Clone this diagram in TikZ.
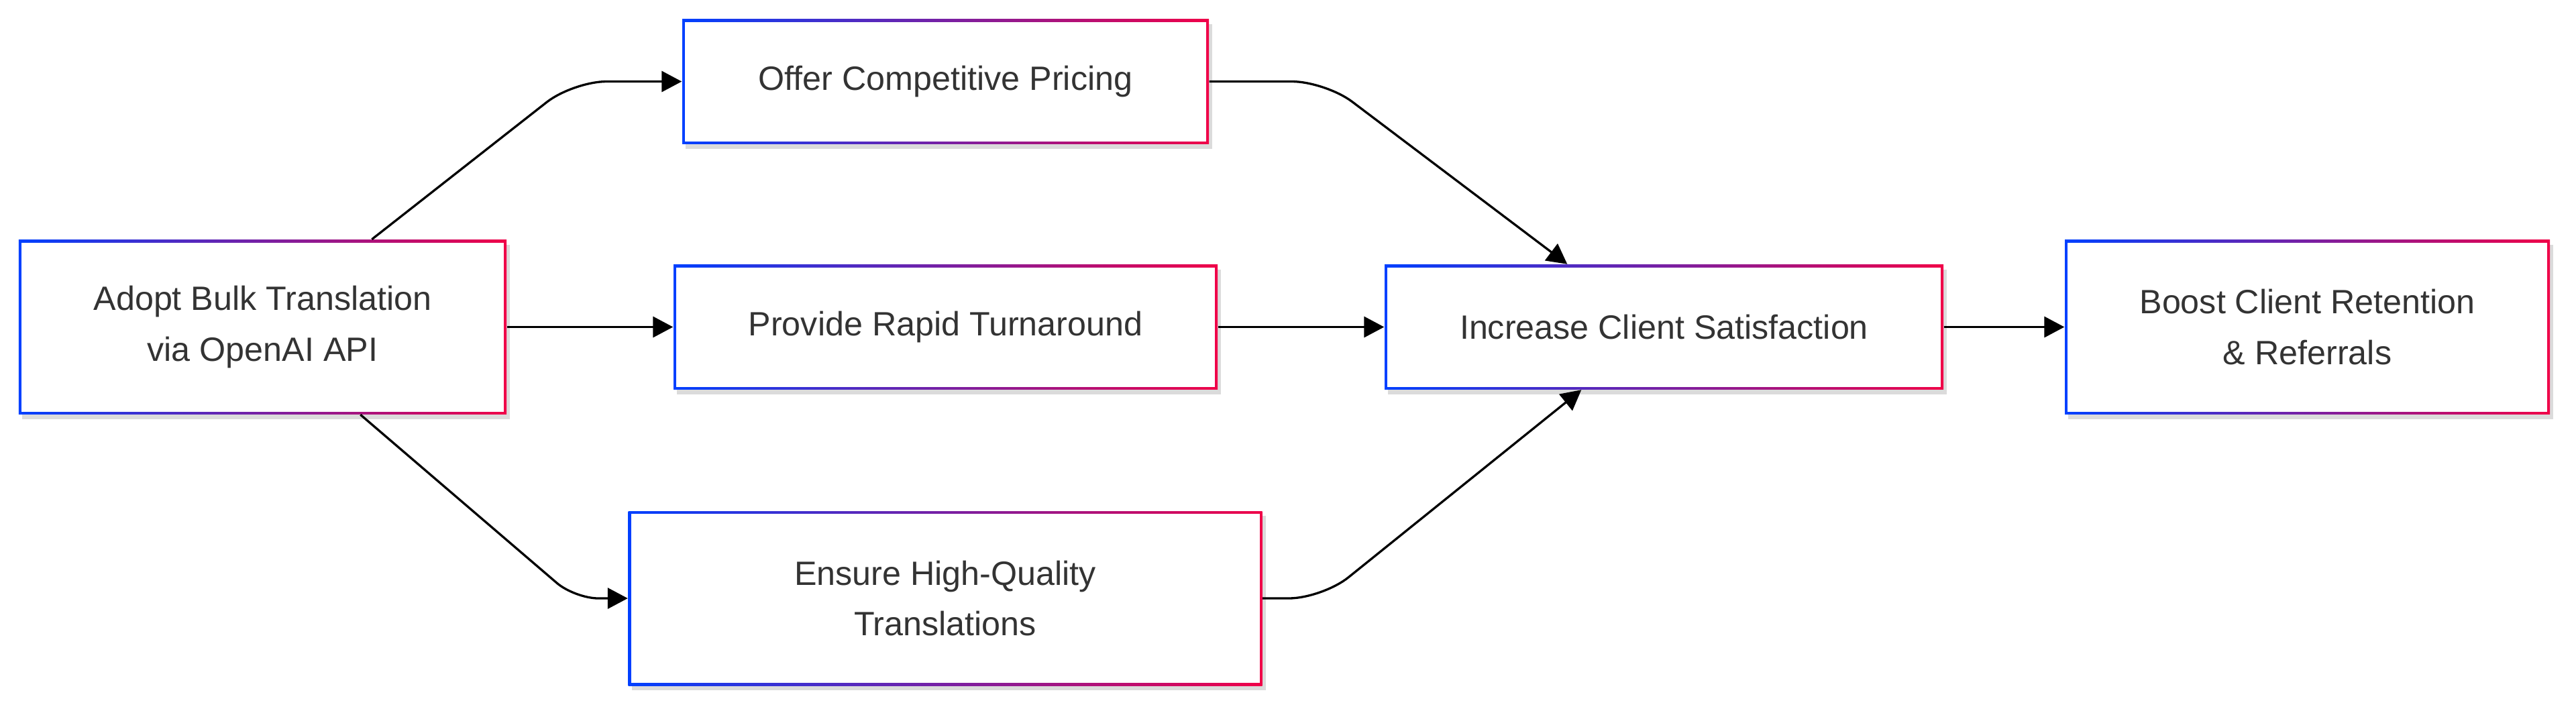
\documentclass[tikz,border=0pt]{standalone}
\usepackage{fontspec}
\setmainfont{Liberation Sans}
\usepackage{tikz}
\usetikzlibrary{arrows.meta,positioning,shadows}

\definecolor{gbBlue}{RGB}{0,64,255}
\definecolor{gbRed}{RGB}{240,0,72}
\definecolor{txtGrey}{RGB}{51,51,51}

\tikzset{
    procbox/.style={rectangle, inner sep=0pt, align=center, text=txtGrey,
        font=\fontsize{14.3pt}{21.4pt}\selectfont,
        left color=gbBlue, right color=gbRed,
        drop shadow={shadow xshift=0.5mm, shadow yshift=-0.7mm, opacity=0.14, fill=black},
        path picture={\fill[white]
            ([shift={(0.4mm,0.4mm)}]path picture bounding box.south west) rectangle
            ([shift={(-0.4mm,-0.4mm)}]path picture bounding box.north east);}},
    link/.style={->, line width=0.33mm, rounded corners=0.5cm}
}

\begin{document}
\begin{tikzpicture}[>={Triangle[length=3mm,width=3.1mm]}]
    \useasboundingbox (0,0) rectangle (38.4,-10.56);

    % Nodes {adopt, pricing, rapid, quality, satisfy, retain}
    \node [procbox, minimum width=7.27cm, minimum height=2.6cm] (adopt)   at (3.915,-4.875)  {Adopt Bulk Translation\\via OpenAI API};
    \node [procbox, minimum width=7.85cm, minimum height=1.86cm] (pricing) at (14.095,-1.215) {Offer Competitive Pricing};
    \node [procbox, minimum width=8.11cm, minimum height=1.86cm] (rapid)   at (14.095,-4.875) {Provide Rapid Turnaround};
    \node [procbox, minimum width=9.45cm, minimum height=2.6cm]  (quality) at (14.09,-8.92)   {Ensure High-Quality\\Translations};
    \node [procbox, minimum width=8.33cm, minimum height=1.86cm] (satisfy) at (24.805,-4.875) {Increase Client Satisfaction};
    \node [procbox, minimum width=7.23cm, minimum height=2.6cm]  (retain)  at (34.395,-4.875) {Boost Client Retention\\\& Referrals};

    % Paths
    \draw [link] ([xshift=5.27cm]adopt.north west) -- ([xshift=-1.62cm]pricing.west) -- (pricing.west);
    \draw [link] (adopt.east) -- (rapid.west);
    \draw [link, rounded corners=0.35cm] ([xshift=5.1cm]adopt.south west) -- ([xshift=-0.79cm]quality.west) -- (quality.west);
    \draw [link] (pricing.east) -- ([xshift=1.73cm]pricing.east) -- ([xshift=2.73cm]satisfy.north west);
    \draw [link] (rapid.east) -- (satisfy.west);
    \draw [link] (quality.east) -- ([xshift=0.89cm]quality.east) -- ([xshift=2.94cm]satisfy.south west);
    \draw [link] (satisfy.east) -- (retain.west);

\end{tikzpicture}
\end{document}
